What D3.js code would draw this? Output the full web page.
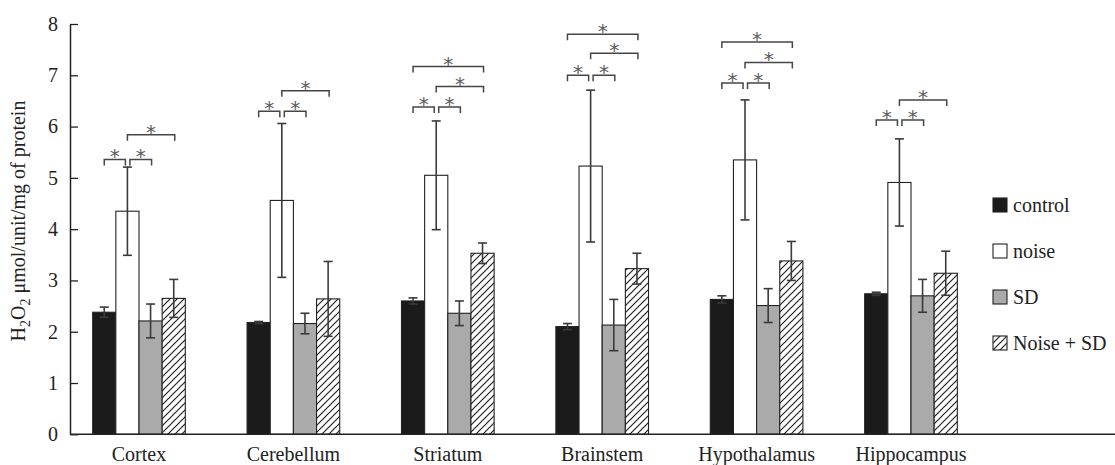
<!DOCTYPE html>
<html>
<head>
<meta charset="utf-8">
<script src="https://cdn.jsdelivr.net/npm/d3@7"></script>
<style>
  body { margin: 0; background: #fff; }
  text { font-family: "Liberation Serif", "Times New Roman", serif; fill: #222; }
</style>
</head>
<body>
<div id="main"></div>
<script>
const regions = ["Cortex", "Cerebellum", "Striatum", "Brainstem", "Hypothalamus", "Hippocampus"];
const groups = ["control", "noise", "SD", "Noise + SD"];

const controlMean = [2.38, 2.18, 2.60, 2.10, 2.63, 2.74];
const controlErr = [0.10, 0.02, 0.06, 0.06, 0.07, 0.03];
const noiseMean = [4.35, 4.56, 5.05, 5.23, 5.35, 4.91];
const noiseErr = [0.86, 1.50, 1.06, 1.48, 1.17, 0.85];
const sdMean = [2.21, 2.16, 2.36, 2.13, 2.51, 2.70];
const sdErr = [0.33, 0.20, 0.24, 0.50, 0.33, 0.32];
const nsdMean = [2.65, 2.64, 3.53, 3.23, 3.38, 3.14];
const nsdErr = [0.37, 0.73, 0.20, 0.30, 0.38, 0.43];

const yTicks = [0, 1, 2, 3, 4, 5, 6, 7, 8];

// significance brackets: region, from group, to group, height
const brackets = [
  ["Cortex", "control", "noise", 5.36], ["Cortex", "noise", "SD", 5.36], ["Cortex", "noise", "Noise + SD", 5.84],
  ["Cerebellum", "control", "noise", 6.30], ["Cerebellum", "noise", "SD", 6.30], ["Cerebellum", "noise", "Noise + SD", 6.70],
  ["Striatum", "control", "noise", 6.38], ["Striatum", "noise", "SD", 6.38], ["Striatum", "noise", "Noise + SD", 6.78], ["Striatum", "control", "Noise + SD", 7.17],
  ["Brainstem", "control", "noise", 7.00], ["Brainstem", "noise", "SD", 7.00], ["Brainstem", "noise", "Noise + SD", 7.43], ["Brainstem", "control", "Noise + SD", 7.80],
  ["Hypothalamus", "control", "noise", 6.85], ["Hypothalamus", "noise", "SD", 6.85], ["Hypothalamus", "noise", "Noise + SD", 7.25], ["Hypothalamus", "control", "Noise + SD", 7.65],
  ["Hippocampus", "control", "noise", 6.13], ["Hippocampus", "noise", "SD", 6.13], ["Hippocampus", "noise", "Noise + SD", 6.52]
];

const means = [controlMean, noiseMean, sdMean, nsdMean];
const errs = [controlErr, noiseErr, sdErr, nsdErr];
const fills = ["#1b1b1b", "#ffffff", "#aaaaaa", "url(#hatch)"];

const serif = '"Liberation Serif", "Times New Roman", serif';
const width = 1115;
const height = 465;
const axisX = 70;
const baseY = 434.3;

const svg = d3.select("#main")
  .append("svg")
  .attr("width", width)
  .attr("height", height);

const defs = svg.append("defs");
const pat = defs.append("pattern")
  .attr("id", "hatch")
  .attr("patternUnits", "userSpaceOnUse")
  .attr("width", 7)
  .attr("height", 7);
pat.append("rect").attr("width", 7).attr("height", 7).attr("fill", "#fff");
pat.append("path")
  .attr("d", "M-1,8 L8,-1 M-1,1 L1,-1 M6,8 L8,6")
  .attr("stroke", "#222")
  .attr("stroke-width", 1.2);

const x0 = d3.scaleBand()
  .domain(regions)
  .range([61.8, 988.2])
  .paddingInner(0.4)
  .paddingOuter(0.2);

const x1 = d3.scaleBand()
  .domain(groups)
  .range([0, x0.bandwidth()]);

const y = d3.scaleLinear()
  .domain([0, 8])
  .range([baseY, 24]);

const barCenter = (r, g) => x0(r) + x1(g) + x1.bandwidth() / 2;

// y axis
const yAxis = d3.axisLeft(y)
  .tickValues(yTicks)
  .tickFormat(d3.format("d"))
  .tickSize(-8)
  .tickSizeOuter(0)
  .tickPadding(12);

const gy = svg.append("g")
  .attr("transform", "translate(" + axisX + ",0)")
  .call(yAxis);
gy.attr("font-family", serif);
gy.selectAll("text").style("font-size", "20px").style("font-family", serif).attr("fill", "#222");
gy.selectAll("line").attr("stroke", "#222").attr("stroke-width", 1.3);
gy.select(".domain").attr("stroke", "#222").attr("stroke-width", 1.5);

svg.append("text")
  .attr("transform", "translate(25," + 221 + ") rotate(-90)")
  .style("text-anchor", "middle")
  .style("font-family", serif)
  .style("font-size", "20px")
  .html('H<tspan dy="5" font-size="14">2</tspan><tspan dy="-5">O</tspan><tspan dy="5" font-size="14">2</tspan><tspan dy="-5"> μmol/unit/mg of protein</tspan>');

// bars
const bars = [];
regions.forEach((r, i) => {
  groups.forEach((g, j) => {
    bars.push({ region: r, group: g, mean: means[j][i], err: errs[j][i], fill: fills[j] });
  });
});

svg.selectAll("rect.bar")
  .data(bars)
  .enter()
  .append("rect")
  .attr("class", "bar")
  .attr("x", d => x0(d.region) + x1(d.group))
  .attr("y", d => y(d.mean))
  .attr("width", x1.bandwidth())
  .attr("height", d => baseY - y(d.mean))
  .attr("fill", d => d.fill)
  .attr("stroke", "#222")
  .attr("stroke-width", 1.1);

// error bars
const eb = svg.selectAll("g.err")
  .data(bars)
  .enter()
  .append("g")
  .attr("class", "err")
  .attr("stroke", "#3a3a3a")
  .attr("stroke-width", 1.6);

eb.append("line")
  .attr("x1", d => barCenter(d.region, d.group))
  .attr("x2", d => barCenter(d.region, d.group))
  .attr("y1", d => y(d.mean + d.err))
  .attr("y2", d => y(d.mean - d.err));
eb.append("line")
  .attr("x1", d => barCenter(d.region, d.group) - 4.5)
  .attr("x2", d => barCenter(d.region, d.group) + 4.5)
  .attr("y1", d => y(d.mean + d.err))
  .attr("y2", d => y(d.mean + d.err));
eb.append("line")
  .attr("x1", d => barCenter(d.region, d.group) - 4.5)
  .attr("x2", d => barCenter(d.region, d.group) + 4.5)
  .attr("y1", d => y(d.mean - d.err))
  .attr("y2", d => y(d.mean - d.err));

// x axis
svg.append("line")
  .attr("x1", axisX)
  .attr("x2", width)
  .attr("y1", baseY)
  .attr("y2", baseY)
  .attr("stroke", "#222")
  .attr("stroke-width", 1.5);

const gx = svg.append("g")
  .attr("transform", "translate(0," + baseY + ")")
  .call(d3.axisBottom(x0).tickSize(0).tickPadding(13));
gx.select(".domain").remove();
gx.attr("font-family", serif);
gx.selectAll("text").style("font-size", "20px").style("font-family", serif).attr("fill", "#222");

// significance brackets
const sigLayer = svg.append("g").style("opacity", 0.99);

const br = sigLayer.selectAll("g.sig")
  .data(brackets)
  .enter()
  .append("g")
  .attr("class", "sig");

const bx1 = d => barCenter(d[0], d[1]) + (d[1] === "noise" && d[2] === "SD" ? 2.5 : 0);
const bx2 = d => barCenter(d[0], d[2]) + (d[2] === "noise" ? -2 : 1);

br.append("path")
  .attr("d", d => {
    const yy = y(d[3]);
    return "M" + bx1(d) + "," + (yy + 6) + "V" + yy + "H" + bx2(d) + "V" + (yy + 6);
  })
  .attr("fill", "none")
  .attr("stroke", "#444")
  .attr("stroke-width", 1.5);

br.append("text")
  .attr("x", d => (bx1(d) + bx2(d)) / 2)
  .attr("y", d => y(d[3]) + 4)
  .style("text-anchor", "middle")
  .style("font-family", "DejaVu Sans")
  .style("font-size", "20px")
  .style("fill", "#5a5a5a")
  .text("*");

// legend
const legendFills = ["#1b1b1b", "#ffffff", "#aaaaaa", "url(#hatch)"];
const legendY = d3.scalePoint().domain(groups).range([205, 343]);

const lg = svg.selectAll("g.legend")
  .data(groups)
  .enter()
  .append("g")
  .attr("class", "legend")
  .attr("transform", d => "translate(993," + legendY(d) + ")");

lg.append("rect")
  .attr("x", 0)
  .attr("y", -7)
  .attr("width", 14)
  .attr("height", 14)
  .attr("fill", (d, i) => legendFills[i])
  .attr("stroke", "#222")
  .attr("stroke-width", 1.1);

lg.append("text")
  .attr("x", 20)
  .attr("y", 7)
  .style("font-family", serif)
  .style("font-size", "20px")
  .text(d => d);
</script>
</body>
</html>
